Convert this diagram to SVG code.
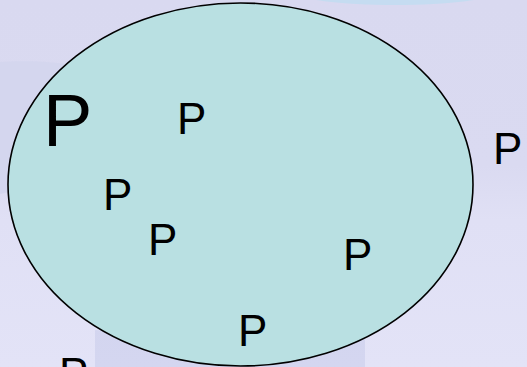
<svg xmlns="http://www.w3.org/2000/svg" width="527" height="367" viewBox="0 0 527 367">
<defs>
<linearGradient id="bg" x1="0" y1="0" x2="0" y2="1">
<stop offset="0" stop-color="#d9d9f0"/>
<stop offset="0.45" stop-color="#dadaf1"/>
<stop offset="0.6" stop-color="#e0e0f5"/>
<stop offset="1" stop-color="#e3e3f7"/>
</linearGradient>
</defs>
<style>
.p{font-family:"Liberation Sans",Arial,sans-serif;fill:#000;font-size:44px}
</style>
<rect width="527" height="367" fill="url(#bg)"/>
<path d="M0,62 C30,60 70,62 90,70 L90,190 C60,186 20,188 0,194 Z" fill="#d2d5ee" opacity="0.8"/>
<path d="M95,330 C150,335 260,340 365,330 L365,367 L95,367 Z" fill="#d1d4ee" opacity="0.9"/>
<ellipse cx="395" cy="-8" rx="100" ry="13" fill="#c5dcf1"/>
<g id="set">
<ellipse cx="240.5" cy="184.5" rx="232.5" ry="181.5" fill="#b9e0e2" stroke="#000" stroke-width="1.6"/>
</g>
<g id="labels">
<text class="p" x="43" y="146" style="font-size:74px">P</text>
<text class="p" x="177" y="134">P</text>
<text class="p" x="493" y="164">P</text>
<text class="p" x="103" y="210">P</text>
<text class="p" x="148" y="255">P</text>
<text class="p" x="343" y="270">P</text>
<text class="p" x="238" y="346">P</text>
<text class="p" x="59" y="389">P</text>
</g>
</svg>
